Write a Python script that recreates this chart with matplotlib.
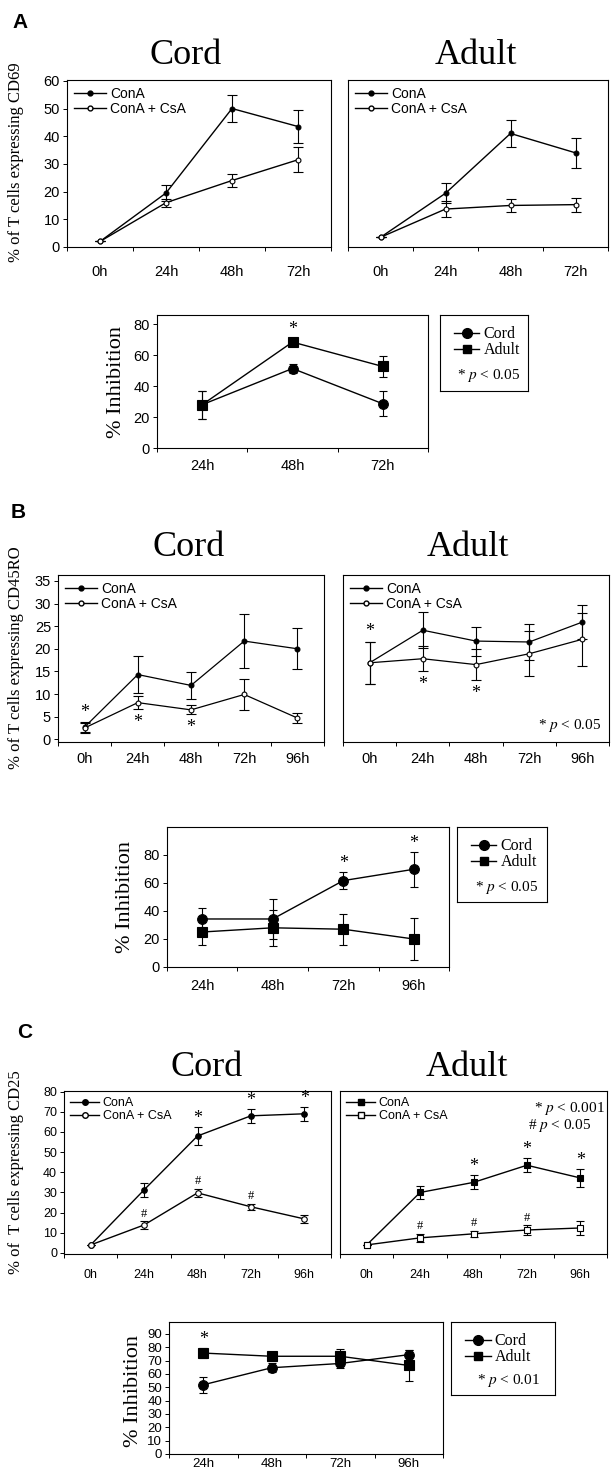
import matplotlib
matplotlib.use("Agg")
import matplotlib.pyplot as plt
from matplotlib.lines import Line2D
import numpy as np

plt.rcParams['font.family'] = ['Liberation Sans', 'DejaVu Sans']
plt.rcParams['mathtext.fontset'] = 'stix'
SERIF = ['Liberation Serif', 'DejaVu Serif']

# ---------------- data ----------------
# A: CD69
times_a = ["0h", "24h", "48h", "72h"]
a_cord_cona = [2, 19.5, 50, 43.5]
a_cord_cona_err = [0, 3, 5, 6]
a_cord_csa = [2, 16, 24, 31.5]
a_cord_csa_err = [0, 1.5, 2.5, 4.5]
a_adult_cona = [3.5, 19.4, 41, 34]
a_adult_cona_err = [0, 3.6, 5, 5.5]
a_adult_csa = [3.5, 13.7, 15, 15.3]
a_adult_csa_err = [0, 3, 2.5, 2.5]

inh_times_a = ["24h", "48h", "72h"]
a_inh_cord = [28, 51.4, 28.6]
a_inh_cord_err = [9, 3, 8]
a_inh_adult = [28, 68.5, 52.7]
a_inh_adult_err = [9, 2.5, 7]

# B: CD45RO
times_b = ["0h", "24h", "48h", "72h", "96h"]
b_cord_cona = [2.7, 14.3, 11.9, 21.7, 20.0]
b_cord_cona_err = [1.1, 4, 2.9, 6, 4.5]
b_cord_csa = [2.5, 8.1, 6.5, 9.9, 4.7]
b_cord_csa_err = [1.1, 1.5, 1.0, 3.5, 1.2]
b_adult_cona = [16.9, 24.1, 21.7, 21.5, 25.9]
b_adult_cona_err = [4.7, 4, 3.2, 3.9, 3.8]
b_adult_csa = [16.9, 17.8, 16.5, 18.9, 22.1]
b_adult_csa_err = [4.7, 2.8, 3.5, 5, 5.9]

inh_times_b = ["24h", "48h", "72h", "96h"]
b_inh_cord = [34.3, 34.3, 61.7, 69.8]
b_inh_cord_err = [8, 14.5, 6, 12.7]
b_inh_adult = [25, 28, 27, 20]
b_inh_adult_err = [9, 13, 11, 15]

# C: CD25
times_c = ["0h", "24h", "48h", "72h", "96h"]
c_cord_cona = [4, 31.3, 58, 68, 69]
c_cord_cona_err = [0, 3.6, 4.6, 3.5, 3.5]
c_cord_csa = [4, 13.9, 29.8, 22.9, 16.9]
c_cord_csa_err = [0, 2, 2, 1.6, 2]
c_adult_cona = [4, 30, 35, 43.5, 37.2]
c_adult_cona_err = [0, 3, 3.5, 3.5, 4.5]
c_adult_csa = [4, 7.5, 9.5, 11.4, 12.4]
c_adult_csa_err = [0, 2, 1.5, 2.5, 3.5]

inh_times_c = ["24h", "48h", "72h", "96h"]
c_inh_cord = [51.9, 64.7, 67.9, 74.5]
c_inh_cord_err = [6, 3.5, 3.3, 3.7]
c_inh_adult = [75.7, 73.3, 73.3, 66.4]
c_inh_adult_err = [4, 3.3, 5.4, 11.4]

# ---------------- layout helpers ----------------
W, H = 612, 1476
fig = plt.figure(figsize=(W / 100, H / 100), dpi=100)


def px_axes(x0, y0, x1, y1):
    return fig.add_axes([x0 / W, 1 - y1 / H, (x1 - x0) / W, (y1 - y0) / H])


def ftext(x, y, s, **kw):
    fig.text(x / W, 1 - y / H, s, ha='center', va='center', **kw)


def style(ax, labels, ylim, yticks, fs=10, pad=8):
    n = len(labels)
    ax.set_xlim(0.5, n + 0.5)
    ax.set_xticks(np.arange(1, n + 1))
    ax.set_xticklabels(labels)
    ax.set_xticks(np.arange(0.5, n + 1), minor=True)
    ax.tick_params(axis='x', which='major', length=0, pad=pad, labelsize=fs)
    ax.tick_params(axis='x', which='minor', length=3, direction='out', width=0.7)
    ax.set_ylim(*ylim)
    if yticks is None:
        ax.set_yticks([])
    else:
        ax.set_yticks(yticks)
        ax.tick_params(axis='y', length=3, labelsize=fs, pad=2, width=0.7)
    for s in ax.spines.values():
        s.set_linewidth(0.8)


def series(ax, y, err, marker='o', filled=True, ms=3.5, cap=3.5, lw=1.0):
    x = np.arange(1, len(y) + 1)
    ax.errorbar(x, y, yerr=err, color='k', lw=lw, marker=marker, ms=ms,
                mfc='k' if filled else 'white', mec='k', mew=0.8,
                capsize=cap, elinewidth=0.8, capthick=0.8)


def mark(ax, idx, y, err, sym='*', above=True, size=13, off=1):
    for i in idx:
        if above:
            ax.annotate(sym, (i + 1, y[i] + err[i]), xytext=(0, off),
                        textcoords='offset points', ha='center', va='bottom',
                        family=SERIF, size=size)
        else:
            ax.annotate(sym, (i + 1, y[i] - err[i]), xytext=(0, -off - 2),
                        textcoords='offset points', ha='center', va='top',
                        family=SERIF, size=size)


def top_legend(ax, marker='o', fs=10, ms=3.5):
    h = [Line2D([], [], color='k', lw=1, marker=marker, ms=ms, mfc='k'),
         Line2D([], [], color='k', lw=1, marker=marker, ms=ms, mfc='white')]
    ax.legend(h, ['ConA', 'ConA + CsA'], loc='upper left', frameon=False,
              fontsize=fs, handlelength=2.3, handletextpad=0.3,
              labelspacing=0.05, borderaxespad=0.3, borderpad=0.2)


def inh_legend(box, ptext):
    lax = px_axes(*box)
    lax.set_xticks([])
    lax.set_yticks([])
    for s in lax.spines.values():
        s.set_linewidth(0.8)
    h = [Line2D([], [], color='k', lw=1, marker='o', ms=7),
         Line2D([], [], color='k', lw=1, marker='s', ms=6)]
    lax.legend(h, ['Cord', 'Adult'], loc='upper left', frameon=False,
               prop={'family': SERIF, 'size': 11.5}, handlelength=1.6,
               handletextpad=0.25, labelspacing=0.0, borderaxespad=0.3,
               borderpad=0.4, bbox_to_anchor=(0.03, 1.0))
    lax.text(0.55, 0.2, ptext, transform=lax.transAxes, ha='center',
             va='center', family=SERIF, size=11)


# ---------------- panel A ----------------
ftext(20, 23, "A", size=15, weight='bold')
ftext(186, 56, "Cord", family=SERIF, size=26)
ftext(476, 56, "Adult", family=SERIF, size=26)
ftext(16, 162, "% of T cells expressing CD69", family=SERIF, size=12, rotation=90)

ax = px_axes(67, 80, 331, 247)
style(ax, times_a, (0, 60.3), np.arange(0, 61, 10), fs=10.5, pad=13)
series(ax, a_cord_cona, a_cord_cona_err)
series(ax, a_cord_csa, a_cord_csa_err, filled=False)
top_legend(ax)

ax = px_axes(348, 80, 608, 247)
style(ax, times_a, (0, 60.3), None, fs=10.5, pad=13)
series(ax, a_adult_cona, a_adult_cona_err)
series(ax, a_adult_csa, a_adult_csa_err, filled=False)
top_legend(ax)

ax = px_axes(157, 315, 428, 448)
style(ax, inh_times_a, (0, 86), np.arange(0, 81, 20), fs=10.5, pad=8)
series(ax, a_inh_cord, a_inh_cord_err, ms=7, cap=3)
series(ax, a_inh_adult, a_inh_adult_err, marker='s', ms=6.5, cap=3)
mark(ax, [1], a_inh_adult, a_inh_adult_err, off=0)
ftext(117, 382, "% Inhibition", family=SERIF, size=16, rotation=90)
inh_legend((440, 315, 528, 391), r"* $p$ < 0.05")

# ---------------- panel B ----------------
ftext(18, 513, "B", size=15, weight='bold')
ftext(189, 548, "Cord", family=SERIF, size=26)
ftext(468, 548, "Adult", family=SERIF, size=26)
ftext(16, 658, "% of T cells expressing CD45RO", family=SERIF, size=12, rotation=90)

ax = px_axes(58, 575, 324, 742)
style(ax, times_b, (-0.6, 36.3), np.arange(0, 36, 5), fs=10.5, pad=7)
series(ax, b_cord_cona, b_cord_cona_err, lw=0.9)
series(ax, b_cord_csa, b_cord_csa_err, filled=False, lw=0.9)
mark(ax, [0], b_cord_cona, b_cord_cona_err)
mark(ax, [1, 2], b_cord_csa, b_cord_csa_err, above=False)
top_legend(ax)

ax = px_axes(343, 575, 609, 742)
style(ax, times_b, (-0.6, 36.3), None, fs=10.5, pad=7)
series(ax, b_adult_cona, b_adult_cona_err, lw=0.9)
series(ax, b_adult_csa, b_adult_csa_err, filled=False, lw=0.9)
mark(ax, [0], b_adult_cona, b_adult_cona_err)
mark(ax, [1, 2], b_adult_csa, b_adult_csa_err, above=False)
top_legend(ax)
ax.text(0.97, 0.1, r"* $p$ < 0.05", transform=ax.transAxes, ha='right',
        va='center', family=SERIF, size=11)

ax = px_axes(167, 827, 449, 967)
style(ax, inh_times_b, (0, 100), np.arange(0, 81, 20), fs=10.5, pad=9)
series(ax, b_inh_cord, b_inh_cord_err, ms=7, cap=3)
series(ax, b_inh_adult, b_inh_adult_err, marker='s', ms=6.5, cap=3)
mark(ax, [2, 3], b_inh_cord, b_inh_cord_err, off=0)
ftext(125, 897, "% Inhibition", family=SERIF, size=16, rotation=90)
inh_legend((457, 827, 547, 902), r"* $p$ < 0.05")

# ---------------- panel C ----------------
ftext(25, 1033, "C", size=15, weight='bold')
ftext(207, 1067, "Cord", family=SERIF, size=26)
ftext(467, 1067, "Adult", family=SERIF, size=26)
ftext(16, 1172, "% of  T cells expressing CD25", family=SERIF, size=12, rotation=90)

ax = px_axes(64, 1091, 331, 1254)
style(ax, times_c, (-0.5, 80.3), np.arange(0, 81, 10), fs=9, pad=11)
series(ax, c_cord_cona, c_cord_cona_err, ms=4, cap=3)
series(ax, c_cord_csa, c_cord_csa_err, filled=False, ms=4, cap=3)
mark(ax, [2, 3, 4], c_cord_cona, c_cord_cona_err, off=0)
mark(ax, [1, 2, 3], c_cord_csa, c_cord_csa_err, sym='#', size=9, off=1)
top_legend(ax, fs=9, ms=4)

ax = px_axes(340, 1091, 607, 1254)
style(ax, times_c, (-0.5, 80.3), None, fs=9, pad=11)
series(ax, c_adult_cona, c_adult_cona_err, marker='s', ms=4, cap=3)
series(ax, c_adult_csa, c_adult_csa_err, marker='s', filled=False, ms=4, cap=3)
mark(ax, [2, 3, 4], c_adult_cona, c_adult_cona_err, off=0)
mark(ax, [1, 2, 3], c_adult_csa, c_adult_csa_err, sym='#', size=9, off=1)
top_legend(ax, marker='s', fs=9, ms=4)
ax.text(0.99, 0.89, r"* $p$ < 0.001", transform=ax.transAxes, ha='right',
        va='center', family=SERIF, size=11)
ax.text(0.94, 0.79, r"# $p$ < 0.05", transform=ax.transAxes, ha='right',
        va='center', family=SERIF, size=11)

ax = px_axes(169, 1322, 443, 1454)
style(ax, inh_times_c, (0, 99), np.arange(0, 91, 10), fs=9.5, pad=3)
series(ax, c_inh_cord, c_inh_cord_err, ms=7, cap=3)
series(ax, c_inh_adult, c_inh_adult_err, marker='s', ms=6.5, cap=3)
mark(ax, [0], c_inh_adult, c_inh_adult_err, off=0)
ftext(133, 1391, "% Inhibition", family=SERIF, size=16, rotation=90)
inh_legend((451, 1322, 555, 1395), r"* $p$ < 0.01")

fig.savefig("out.png", dpi=100)
